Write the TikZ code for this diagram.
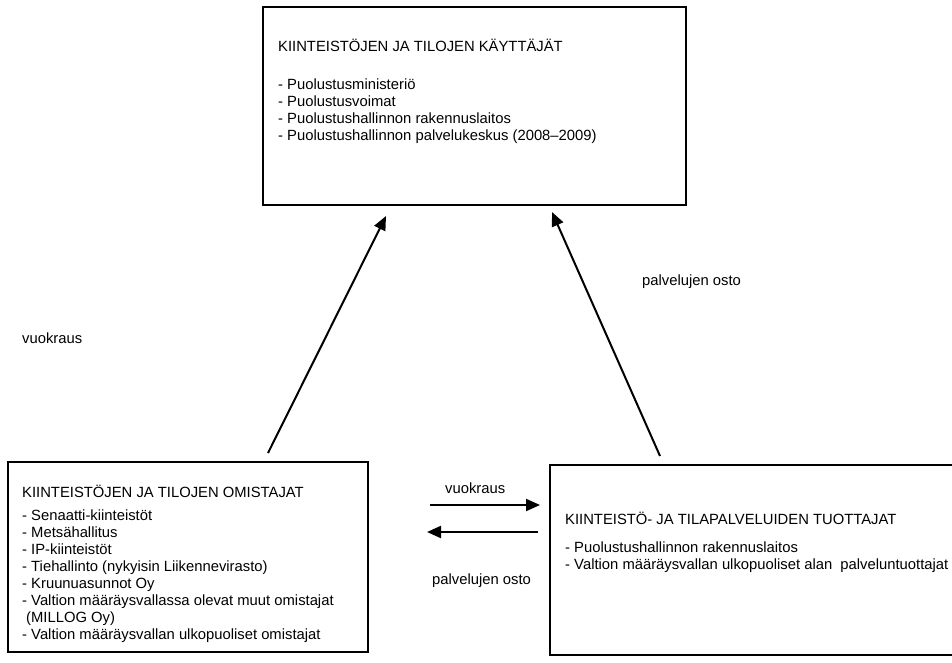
\documentclass[tikz,border=0pt]{standalone}
\usepackage{fontspec}
\setmainfont{Liberation Sans}
\usetikzlibrary{arrows.meta}
\begin{document}
\begin{tikzpicture}[x=1pt,y=-1pt,
  box/.style={draw, line width=2pt, inner sep=0pt},
  txt/.style={anchor=base west, inner sep=0pt, font=\fontsize{14.8}{17}\selectfont},
  conn/.style={line width=2pt, -{Triangle[length=14pt,width=12pt]}}]
\useasboundingbox (0,0) rectangle (952,662);
% boxes
\node[box, minimum width=423pt, minimum height=198pt] (users) at (474.5,106) {};
\node[box, minimum width=360pt, minimum height=190pt] (owners) at (188,557) {};
\node[box, minimum width=440pt, minimum height=190pt] (producers) at (770,560) {};
% top box text
\node[txt] (ut) at (278,51) {KIINTEISTÖJEN JA TILOJEN KÄYTTÄJÄT};
\node[txt] (u1) at (278,89) {- Puolustusministeriö};
\node[txt] (u2) at (278,106) {- Puolustusvoimat};
\node[txt] (u3) at (278,123) {- Puolustushallinnon rakennuslaitos};
\node[txt] (u4) at (278,140) {- Puolustushallinnon palvelukeskus (2008–2009)};
% left box text
\node[txt] (ot) at (22,497) {KIINTEISTÖJEN JA TILOJEN OMISTAJAT};
\node[txt] (o1) at (22,520) {- Senaatti-kiinteistöt};
\node[txt] (o2) at (22,537) {- Metsähallitus};
\node[txt] (o3) at (22,554) {- IP-kiinteistöt};
\node[txt] (o4) at (22,571) {- Tiehallinto (nykyisin Liikennevirasto)};
\node[txt] (o5) at (22,588) {- Kruunuasunnot Oy};
\node[txt] (o6) at (22,605) {- Valtion määräysvallassa olevat muut omistajat};
\node[txt] (o7) at (26,622) {(MILLOG Oy)};
\node[txt] (o8) at (22,639) {- Valtion määräysvallan ulkopuoliset omistajat};
% right box text
\node[txt] (pt) at (565,524) {KIINTEISTÖ- JA TILAPALVELUIDEN TUOTTAJAT};
\node[txt] (p1) at (565,552) {- Puolustushallinnon rakennuslaitos};
\node[txt] (p2) at (565,569) {- Valtion määräysvallan ulkopuoliset alan~ palveluntuottajat};
% labels
\node[txt] (l1) at (642,285) {palvelujen osto};
\node[txt] (l2) at (22,343) {vuokraus};
\node[txt] (l3) at (445,493) {vuokraus};
\node[txt] (l4) at (432,584) {palvelujen osto};
% connector end points
\coordinate (a1s) at (268,453);
\coordinate (a1e) at (386,216);
\coordinate (a2s) at (660,456);
\coordinate (a2e) at (552,212);
\coordinate (a3s) at (430,505);
\coordinate (a3e) at (540,505);
\coordinate (a4s) at (538,532);
\coordinate (a4e) at (427,532);
\draw[conn] (a1s) -- (a1e);
\draw[conn] (a2s) -- (a2e);
\draw[conn] (a3s) -- (a3e);
\draw[conn] (a4s) -- (a4e);
\end{tikzpicture}
\end{document}
